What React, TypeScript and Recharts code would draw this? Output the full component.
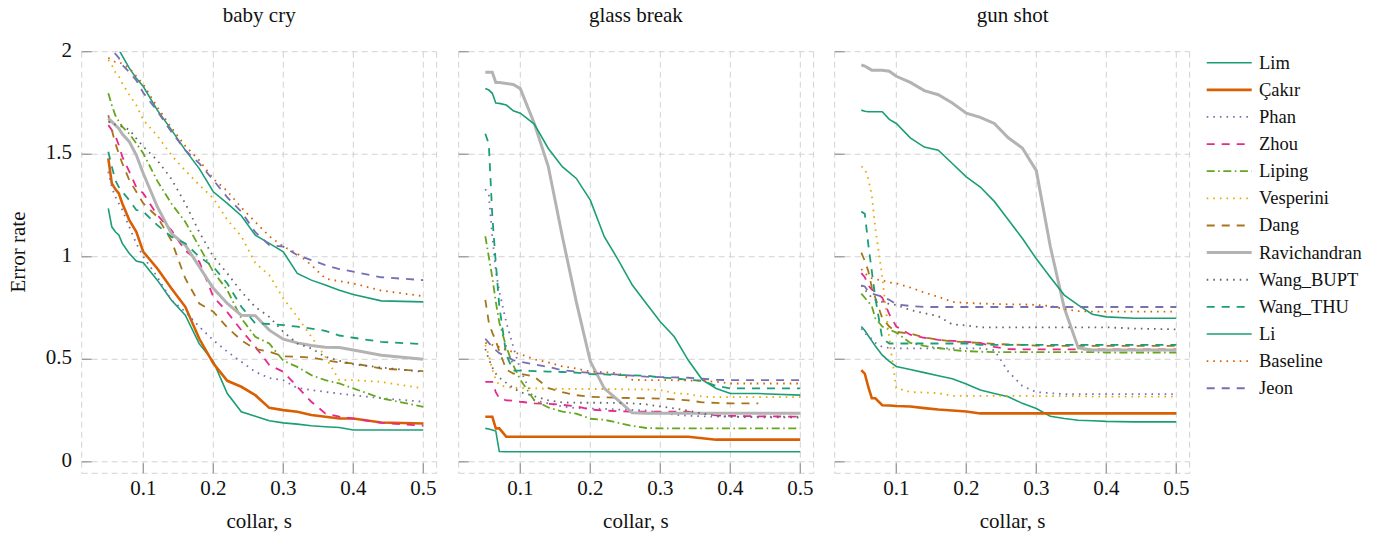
import { LineChart, Line, XAxis, YAxis, CartesianGrid } from 'recharts';

const collar = [0.05, 0.055, 0.06, 0.065, 0.07, 0.08, 0.09, 0.1, 0.12, 0.14, 0.16, 0.18, 0.2, 0.22, 0.24, 0.26, 0.28, 0.3, 0.32, 0.34, 0.36, 0.38, 0.4, 0.44, 0.5];

const xTicks = [0.1, 0.2, 0.3, 0.4, 0.5];
const yTicks = [0, 0.5, 1, 1.5, 2];

const babyCry: Record<string, (number | null)[]> = {
  Lim: [1.236, 1.146, 1.122, 1.106, 1.065, 1.016, 0.979, 0.971, 0.886, 0.789, 0.715, 0.575, 0.49, 0.333, 0.244, 0.222, 0.2, 0.19, 0.184, 0.176, 0.171, 0.167, 0.155, 0.155, 0.155],
  'Çakır': [1.48, 1.358, 1.33, 1.309, 1.26, 1.179, 1.122, 1.024, 0.943, 0.846, 0.756, 0.6, 0.48, 0.395, 0.366, 0.325, 0.263, 0.252, 0.244, 0.228, 0.22, 0.211, 0.211, 0.192, 0.187],
  Phan: [1.415, 1.34, 1.293, 1.26, 1.228, 1.146, 1.065, 1.0, 0.902, 0.789, 0.732, 0.659, 0.593, 0.537, 0.488, 0.439, 0.408, 0.398, 0.36, 0.35, 0.341, 0.333, 0.325, 0.31, 0.293],
  Zhou: [1.642, 1.618, 1.59, 1.545, 1.488, 1.415, 1.34, 1.309, 1.203, 1.13, 1.03, 0.976, 0.805, 0.73, 0.642, 0.561, 0.472, 0.439, 0.366, 0.293, 0.236, 0.22, 0.211, 0.19, 0.176],
  Liping: [1.797, 1.74, 1.69, 1.66, 1.634, 1.6, 1.553, 1.504, 1.37, 1.26, 1.17, 1.049, 0.927, 0.837, 0.7, 0.61, 0.577, 0.493, 0.463, 0.423, 0.398, 0.382, 0.358, 0.31, 0.268],
  Vesperini: [1.96, 1.935, 1.9, 1.88, 1.845, 1.79, 1.74, 1.667, 1.59, 1.496, 1.42, 1.35, 1.285, 1.18, 1.1, 0.97, 0.91, 0.797, 0.707, 0.61, 0.512, 0.398, 0.398, 0.39, 0.358],
  Dang: [1.69, 1.618, 1.553, 1.504, 1.455, 1.374, 1.317, 1.26, 1.195, 1.08, 0.894, 0.772, 0.732, 0.655, 0.593, 0.55, 0.537, 0.515, 0.512, 0.509, 0.496, 0.485, 0.48, 0.455, 0.442],
  Ravichandran: [1.675, 1.659, 1.642, 1.626, 1.598, 1.561, 1.496, 1.406, 1.244, 1.114, 1.057, 0.951, 0.846, 0.772, 0.715, 0.712, 0.642, 0.598, 0.58, 0.567, 0.559, 0.557, 0.545, 0.52, 0.5],
  Wang_BUPT: [1.66, 1.65, 1.645, 1.64, 1.634, 1.62, 1.577, 1.537, 1.47, 1.38, 1.26, 1.12, 1.0, 0.919, 0.83, 0.755, 0.707, 0.634, 0.577, 0.553, 0.512, 0.493, 0.476, 0.46, 0.439],
  Wang_THU: [1.512, 1.44, 1.374, 1.34, 1.317, 1.276, 1.228, 1.22, 1.154, 1.098, 1.065, 1.0, 0.951, 0.87, 0.756, 0.675, 0.672, 0.667, 0.659, 0.65, 0.639, 0.616, 0.605, 0.585, 0.574],
  Li: [2.2, 2.12, 2.06, 2.01, 1.98, 1.92, 1.87, 1.83, 1.715, 1.62, 1.52, 1.43, 1.317, 1.26, 1.2, 1.105, 1.065, 1.024, 0.919, 0.886, 0.862, 0.837, 0.816, 0.785, 0.78],
  Baseline: [1.97, 1.96, 1.95, 1.95, 1.94, 1.92, 1.88, 1.84, 1.73, 1.63, 1.54, 1.47, 1.38, 1.32, 1.24, 1.17, 1.1, 1.05, 1.016, 0.96, 0.894, 0.881, 0.87, 0.835, 0.808],
  Jeon: [2.06, 2.02, 1.99, 1.97, 1.935, 1.9, 1.86, 1.8, 1.71, 1.61, 1.52, 1.455, 1.374, 1.29, 1.22, 1.12, 1.057, 1.049, 1.008, 0.984, 0.959, 0.94, 0.927, 0.9, 0.886],
};

const glassBreak: Record<string, (number | null)[]> = {
  Lim: [0.163, 0.16, 0.155, 0.15, 0.05, 0.049, 0.049, 0.049, 0.049, 0.049, 0.049, 0.049, 0.049, 0.049, 0.049, 0.049, 0.049, 0.049, 0.049, 0.049, 0.049, 0.049, 0.049, 0.049, 0.049],
  'Çakır': [0.22, 0.22, 0.22, 0.163, 0.163, 0.122, 0.122, 0.122, 0.122, 0.122, 0.122, 0.122, 0.122, 0.122, 0.122, 0.122, 0.122, 0.122, 0.122, 0.122, 0.115, 0.108, 0.108, 0.108, 0.108],
  Phan: [1.33, 1.3, 1.1, 0.93, 0.83, 0.68, 0.56, 0.45, 0.3, 0.285, 0.27, 0.262, 0.26, 0.258, 0.255, 0.253, 0.25, 0.24, 0.23, 0.225, 0.222, 0.22, 0.22, 0.22, 0.22],
  Zhou: [0.39, 0.39, 0.39, 0.34, 0.31, 0.3, 0.298, 0.293, 0.285, 0.283, 0.278, 0.27, 0.255, 0.25, 0.247, 0.245, 0.245, 0.245, 0.245, 0.245, 0.235, 0.226, 0.224, 0.222, 0.22],
  Liping: [1.1, 1.0, 0.9, 0.78, 0.68, 0.56, 0.47, 0.4, 0.3, 0.265, 0.245, 0.235, 0.21, 0.205, 0.19, 0.175, 0.165, 0.163, 0.163, 0.163, 0.163, 0.163, 0.163, 0.163, 0.163],
  Vesperini: [0.57, 0.52, 0.45, 0.4, 0.375, 0.365, 0.36, 0.36, 0.358, 0.357, 0.356, 0.356, 0.355, 0.355, 0.354, 0.353, 0.353, 0.35, 0.335, 0.33, 0.318, 0.315, 0.315, 0.315, 0.315],
  Dang: [0.79, 0.68, 0.63, 0.59, 0.54, 0.45, 0.43, 0.43, 0.415, 0.36, 0.34, 0.325, 0.317, 0.315, 0.312, 0.311, 0.31, 0.308, 0.305, 0.3, 0.29, 0.287, 0.285, 0.285, null],
  Ravichandran: [1.9, 1.9, 1.9, 1.85, 1.85, 1.845, 1.84, 1.82, 1.65, 1.44, 1.1, 0.78, 0.49, 0.358, 0.3, 0.239, 0.237, 0.237, 0.237, 0.237, 0.237, 0.237, 0.237, 0.237, 0.237],
  Wang_BUPT: [0.55, 0.5, 0.46, 0.43, 0.41, 0.385, 0.36, 0.34, 0.32, 0.3, 0.29, 0.288, 0.288, 0.288, 0.287, 0.285, 0.28, 0.27, 0.26, 0.25, 0.235, 0.225, 0.22, 0.217, 0.216],
  Wang_THU: [1.6, 1.55, 1.2, 0.97, 0.76, 0.52, 0.445, 0.445, 0.442, 0.44, 0.438, 0.435, 0.428, 0.426, 0.423, 0.422, 0.42, 0.411, 0.407, 0.4, 0.395, 0.37, 0.358, 0.358, 0.358],
  Li: [1.82, 1.813, 1.797, 1.75, 1.748, 1.74, 1.712, 1.7, 1.647, 1.528, 1.439, 1.382, 1.276, 1.098, 0.984, 0.862, 0.772, 0.683, 0.61, 0.495, 0.4, 0.358, 0.333, 0.333, 0.325],
  Baseline: [0.58, 0.575, 0.57, 0.565, 0.56, 0.545, 0.535, 0.525, 0.5, 0.485, 0.465, 0.455, 0.44, 0.437, 0.432, 0.4, 0.398, 0.398, 0.398, 0.397, 0.395, 0.39, 0.382, 0.382, 0.382],
  Jeon: [0.6, 0.58, 0.56, 0.545, 0.53, 0.515, 0.495, 0.488, 0.475, 0.463, 0.447, 0.44, 0.433, 0.43, 0.425, 0.42, 0.415, 0.413, 0.412, 0.41, 0.405, 0.4, 0.398, 0.398, 0.398],
};

const gunShot: Record<string, (number | null)[]> = {
  Lim: [0.66, 0.64, 0.615, 0.59, 0.565, 0.52, 0.49, 0.465, 0.45, 0.435, 0.42, 0.405, 0.38, 0.35, 0.333, 0.317, 0.285, 0.26, 0.222, 0.211, 0.203, 0.2, 0.197, 0.195, 0.195],
  'Çakır': [0.447, 0.43, 0.365, 0.31, 0.31, 0.276, 0.275, 0.272, 0.27, 0.262, 0.255, 0.25, 0.245, 0.236, 0.236, 0.236, 0.236, 0.236, 0.236, 0.236, 0.236, 0.236, 0.236, 0.236, 0.236],
  Phan: [0.65, 0.63, 0.61, 0.6, 0.58, 0.56, 0.555, 0.553, 0.553, 0.553, 0.553, 0.553, 0.553, 0.553, 0.545, 0.44, 0.37, 0.34, 0.335, 0.33, 0.33, 0.33, 0.33, 0.33, 0.33],
  Zhou: [0.92, 0.9, 0.86, 0.84, 0.83, 0.8, 0.72, 0.66, 0.62, 0.605, 0.595, 0.59, 0.585, 0.58, 0.56, 0.55, 0.548, 0.548, 0.548, 0.548, 0.548, 0.548, 0.548, 0.548, 0.548],
  Liping: [0.82, 0.8, 0.78, 0.76, 0.7, 0.66, 0.645, 0.63, 0.58, 0.565, 0.555, 0.545, 0.54, 0.537, 0.535, 0.535, 0.535, 0.535, 0.535, 0.535, 0.535, 0.535, 0.533, 0.533, 0.533],
  Vesperini: [1.44, 1.43, 1.38, 1.3, 1.14, 0.9, 0.6, 0.36, 0.34, 0.338, 0.335, 0.322, 0.322, 0.322, 0.322, 0.322, 0.322, 0.32, 0.32, 0.32, 0.32, 0.318, 0.318, 0.318, 0.318],
  Dang: [1.02, 0.98, 0.93, 0.85, 0.8, 0.7, 0.66, 0.634, 0.625, 0.607, 0.595, 0.587, 0.583, 0.58, 0.575, 0.572, 0.57, 0.567, 0.565, 0.565, 0.565, 0.565, 0.565, 0.565, 0.565],
  Ravichandran: [1.935, 1.93, 1.92, 1.91, 1.91, 1.91, 1.905, 1.88, 1.85, 1.81, 1.79, 1.75, 1.7, 1.68, 1.65, 1.58, 1.53, 1.42, 1.05, 0.75, 0.555, 0.545, 0.545, 0.545, 0.545],
  Wang_BUPT: [0.86, 0.84, 0.82, 0.8, 0.79, 0.78, 0.77, 0.765, 0.74, 0.725, 0.71, 0.67, 0.665, 0.656, 0.656, 0.656, 0.656, 0.656, 0.656, 0.656, 0.656, 0.656, 0.656, 0.65, 0.646],
  Wang_THU: [1.22, 1.21, 1.06, 0.93, 0.8, 0.6, 0.577, 0.577, 0.577, 0.577, 0.577, 0.577, 0.577, 0.57, 0.57, 0.57, 0.57, 0.57, 0.57, 0.57, 0.57, 0.57, 0.57, 0.57, 0.57],
  Li: [1.715, 1.71, 1.707, 1.707, 1.707, 1.707, 1.67, 1.65, 1.58, 1.535, 1.52, 1.455, 1.39, 1.34, 1.27, 1.18, 1.09, 0.99, 0.9, 0.813, 0.764, 0.72, 0.707, 0.7, 0.7],
  Baseline: [0.94, 0.92, 0.905, 0.895, 0.89, 0.885, 0.875, 0.87, 0.85, 0.825, 0.805, 0.78, 0.775, 0.772, 0.77, 0.768, 0.768, 0.765, 0.76, 0.745, 0.735, 0.732, 0.732, 0.732, 0.732],
  Jeon: [0.86, 0.855, 0.83, 0.82, 0.815, 0.805, 0.79, 0.768, 0.76, 0.755, 0.755, 0.755, 0.755, 0.755, 0.755, 0.755, 0.755, 0.755, 0.755, 0.755, 0.755, 0.755, 0.755, 0.755, 0.755],
};

const DOT = '1.6 5';
const DASH = '8 7';
const DASHDOT = '8 3.5 1.6 3.5';

// legend order = drawing order
const series = [
  { name: 'Lim', color: '#1b9e77', width: 1.6, dash: undefined },
  { name: 'Çakır', color: '#d95f02', width: 2.6, dash: undefined },
  { name: 'Phan', color: '#7570b3', width: 1.8, dash: DOT },
  { name: 'Zhou', color: '#e7298a', width: 1.8, dash: DASH },
  { name: 'Liping', color: '#66a61e', width: 1.8, dash: DASHDOT },
  { name: 'Vesperini', color: '#e6ab02', width: 1.8, dash: DOT },
  { name: 'Dang', color: '#a6761d', width: 1.8, dash: DASH },
  { name: 'Ravichandran', color: '#b3b3b3', width: 3, dash: undefined },
  { name: 'Wang_BUPT', color: '#666666', width: 1.8, dash: DOT },
  { name: 'Wang_THU', color: '#1b9e77', width: 1.8, dash: DASH },
  { name: 'Li', color: '#1b9e77', width: 1.6, dash: undefined },
  { name: 'Baseline', color: '#d95f02', width: 1.8, dash: DOT },
  { name: 'Jeon', color: '#7570b3', width: 1.8, dash: DASH },
];

const FONT = "'Liberation Serif', 'DejaVu Serif', 'Noto Serif', 'Times New Roman', Times, 'Nimbus Roman', FreeSerif, serif";
const CHART_W = 450;
const CHART_H = 533;
const Y_AXIS_W = 50;
const PLOT_LEFT = 81.7;
const PLOT_TOP = 51.7;
const PLOT_BOTTOM = 473.3;
const X_AXIS_H = 30;
const PANEL_STEP = 376.7;

function rows(values: Record<string, (number | null)[]>) {
  return collar.map((x, i) => {
    const row: Record<string, number | null> = { x };
    series.forEach((s) => { row[s.name] = values[s.name][i]; });
    return row;
  });
}

const textStyle = { fontFamily: FONT, fontSize: 21 };

const renderXTick = (props: any) => {
  const { x, payload } = props;
  return (
    <g>
      <line x1={x} x2={x} y1={PLOT_BOTTOM - 10} y2={PLOT_BOTTOM} stroke="#9a9a9a" strokeWidth={1.3} />
      <text x={x} y={495} textAnchor="middle" style={textStyle} fill="#111">
        {String(payload.value)}
      </text>
    </g>
  );
};

const makeYTick = (showLabel: boolean) => (props: any) => {
  const { y, payload } = props;
  return (
    <g>
      <line x1={PLOT_LEFT} x2={PLOT_LEFT + 10} y1={y} y2={y} stroke="#9a9a9a" strokeWidth={1.3} />
      {showLabel && (
        <text x={72} y={y + 5} textAnchor="end" style={textStyle} fill="#111">
          {String(payload.value)}
        </text>
      )}
    </g>
  );
};

interface PanelProps {
  values: Record<string, (number | null)[]>;
  index: number;
}

function Panel({ values, index }: PanelProps) {
  const data = rows(values);
  return (
    <div style={{ position: 'absolute', left: index * PANEL_STEP, top: 0 }}>
      <LineChart
        width={CHART_W}
        height={CHART_H}
        data={data}
        margin={{ top: PLOT_TOP, right: 13.4, bottom: CHART_H - PLOT_BOTTOM - X_AXIS_H, left: PLOT_LEFT - Y_AXIS_W }}
      >
        <CartesianGrid stroke="#d2d2d2" strokeDasharray="6 4" />
        <XAxis
          type="number"
          dataKey="x"
          domain={[0.012, 0.519]}
          ticks={xTicks}
          interval={0}
          allowDataOverflow
          axisLine={false}
          tickLine={false}
          height={X_AXIS_H}
          tick={renderXTick}
        />
        <YAxis
          type="number"
          domain={[-0.056, 2]}
          ticks={yTicks}
          interval={0}
          allowDataOverflow
          axisLine={false}
          tickLine={false}
          width={Y_AXIS_W}
          tick={makeYTick(index === 0)}
        />
        {series.map((s) => (
          <Line
            key={s.name}
            type="linear"
            dataKey={s.name}
            stroke={s.color}
            strokeWidth={s.width}
            strokeDasharray={s.dash}
            dot={false}
            activeDot={false}
            isAnimationActive={false}
          />
        ))}
      </LineChart>
    </div>
  );
}

const titles = ['baby cry', 'glass break', 'gun shot'];

export default function App() {
  return (
    <div style={{ position: 'absolute', left: 0, top: 0, width: 1376, height: 533, background: '#fff', fontFamily: FONT }}>
      <Panel values={babyCry} index={0} />
      <Panel values={glassBreak} index={1} />
      <Panel values={gunShot} index={2} />
      <svg width={1376} height={533} style={{ position: 'absolute', left: 0, top: 0, pointerEvents: 'none' }}>
        {titles.map((t, i) => (
          <g key={t}>
            <text x={259.2 + i * PANEL_STEP} y={22} textAnchor="middle" style={textStyle} fill="#111">{t}</text>
            <text x={259.2 + i * PANEL_STEP} y={528} textAnchor="middle" style={textStyle} fill="#111">collar, s</text>
          </g>
        ))}
        <text transform="translate(25,252) rotate(-90)" textAnchor="middle" style={textStyle} fill="#111">Error rate</text>
        {series.map((s, i) => {
          const y = 62.7 + i * 27.13;
          return (
            <g key={s.name}>
              <line x1={1206.7} x2={1251.7} y1={y} y2={y} stroke={s.color} strokeWidth={s.width} strokeDasharray={s.dash} />
              <text x={1259} y={y + 6} style={{ fontFamily: FONT, fontSize: 18.5 }} fill="#111">{s.name}</text>
            </g>
          );
        })}
      </svg>
    </div>
  );
}
